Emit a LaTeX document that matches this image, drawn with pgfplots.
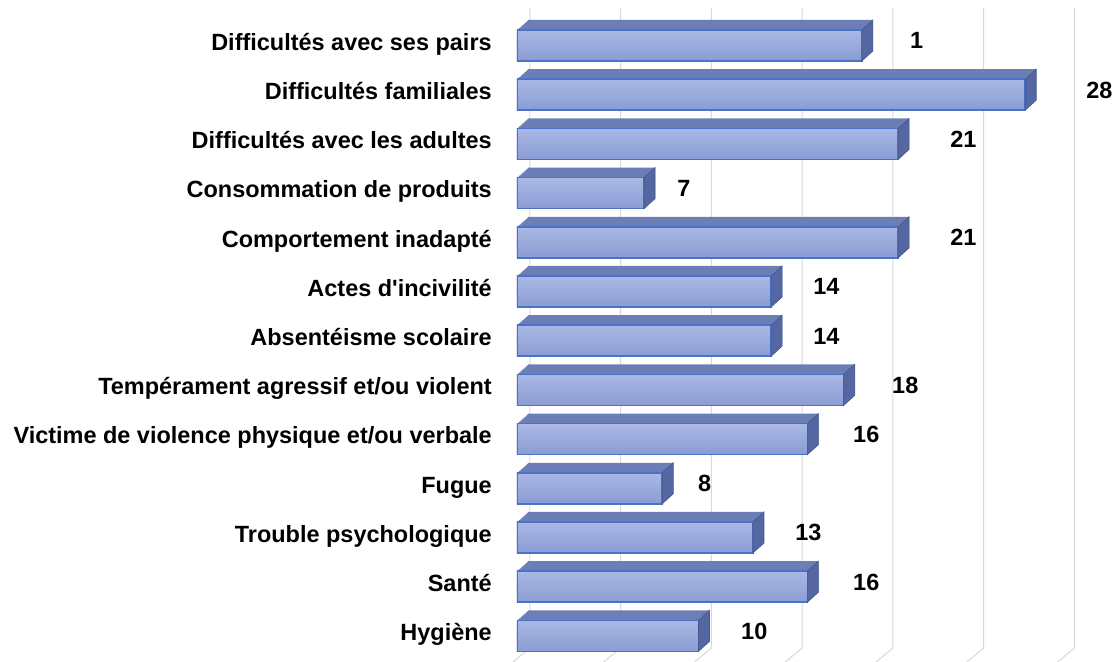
\documentclass[border=0pt]{standalone}
\usepackage{fontspec}
\setmainfont{Liberation Sans}
\usepackage{pgfplots}
\usepackage{pgfplotstable}
\pgfplotsset{compat=1.18}

\definecolor{gridc}{HTML}{D9D9D9}
\definecolor{topc}{HTML}{6B7EB6}
\definecolor{sidec}{HTML}{5567A2}
\definecolor{fronttop}{HTML}{AAB8E4}
\definecolor{frontbot}{HTML}{899CD4}
\definecolor{edgec}{HTML}{4A72C6}

% i = row (top to bottom), v = bar length, lx = where the printed label starts, lab = printed text
\pgfplotstableread{
i v  lx    lab
0 19 21.65 1
1 28 31.35 28
2 21 23.86 21
3 7  8.82  7
4 21 23.86 21
5 14 16.31 14
6 14 16.31 14
7 18 20.66 18
8 16 18.51 16
9 8  9.97  8
10 13 15.32 13
11 16 18.51 16
12 10 12.34 10
}\data

\pgfplotstableread{
g  y
0  12.5305
5  12.5305
10 12.5305
15 12.5305
20 12.5305
25 12.5305
30 12.5305
}\gridpts

% right face of a bar, drawn at the bar end
\pgfdeclareplotmark{sideface}{%
  \pgfpathmoveto{\pgfqpoint{0pt}{-11.625pt}}%
  \pgfpathlineto{\pgfqpoint{8.25pt}{-4.125pt}}%
  \pgfpathlineto{\pgfqpoint{8.25pt}{19.125pt}}%
  \pgfpathlineto{\pgfqpoint{0pt}{11.625pt}}%
  \pgfpathclose
  \pgfusepathqfillstroke}

% back wall grid line with its floor segment
\pgfdeclareplotmark{gridmark}{%
  \pgfpathmoveto{\pgfqpoint{9.75pt}{490.5pt}}%
  \pgfpathlineto{\pgfqpoint{9.75pt}{10.5pt}}%
  \pgfpathlineto{\pgfqpoint{-3pt}{0pt}}%
  \pgfusepathqstroke}

\newcommand{\lblfont}{\fontsize{17.6}{20}\selectfont\bfseries}

\begin{document}
\begin{tikzpicture}
\begin{axis}[
  name=ax,
  set layers,
  scale only axis,
  width=448.5pt, height=496.5pt,
  xmin=0, xmax=32.948,
  ymin=-0.9248, ymax=12.5305,
  y dir=reverse,
  axis line style={draw=none},
  major tick length=0pt,
  xtick=\empty,
  ytick={0,...,12},
  yticklabels={Difficultés avec ses pairs, Difficultés familiales,
    Difficultés avec les adultes, Consommation de produits,
    Comportement inadapté, Actes d\textquotesingle incivilité, Absentéisme scolaire,
    Tempérament agressif et/ou violent,
    Victime de violence physique et/ou verbale, Fugue,
    Trouble psychologique, Santé, Hygiène},
  yticklabel style={anchor=east, inner sep=0pt, xshift=-18.75pt,
    text height=0.716em, text depth=0pt, font=\lblfont},
]
% grid, kept behind the bars
\addplot[only marks, mark=gridmark, on layer=axis background,
  mark layer=axis background,
  mark options={draw=gridc, line width=0.75pt}]
  table[x=g, y=y] {\gridpts};

% top face: the bar swept back along the depth
\pgfplotsinvokeforeach{1,...,10}{
  \addplot[xbar, bar shift=0pt, bar width=23.25pt, fill=topc, draw=none,
    xshift=#1*0.825pt, yshift=#1*0.75pt]
    table[x=v, y=i] {\data};
}

% side face
\addplot[only marks, mark=sideface,
  mark options={fill=sidec, draw=sidec!85!black, line width=0.5pt}]
  table[x=v, y=i] {\data};

% front face, one row at a time so that each bar gets its own gradient
\pgfplotsinvokeforeach{0,...,12}{
  \addplot[xbar, bar shift=0pt, bar width=23.25pt, draw=edgec, line width=1.1pt,
    top color=fronttop, bottom color=frontbot,
    x filter/.expression={\coordindex==#1 ? x : nan}]
    table[x=v, y=i] {\data};
}

% value labels
\addplot[draw=none, mark=none, nodes near coords, point meta=explicit symbolic,
  every node near coord/.style={anchor=west, inner sep=0pt, yshift=3.5pt,
    font=\lblfont, text=black}]
  table[x=lx, y=i, meta=lab] {\data};
\end{axis}
\pgfresetboundingbox
\path ([xshift=-387.75pt]ax.south west) rectangle (ax.north east);
\end{tikzpicture}
\end{document}
